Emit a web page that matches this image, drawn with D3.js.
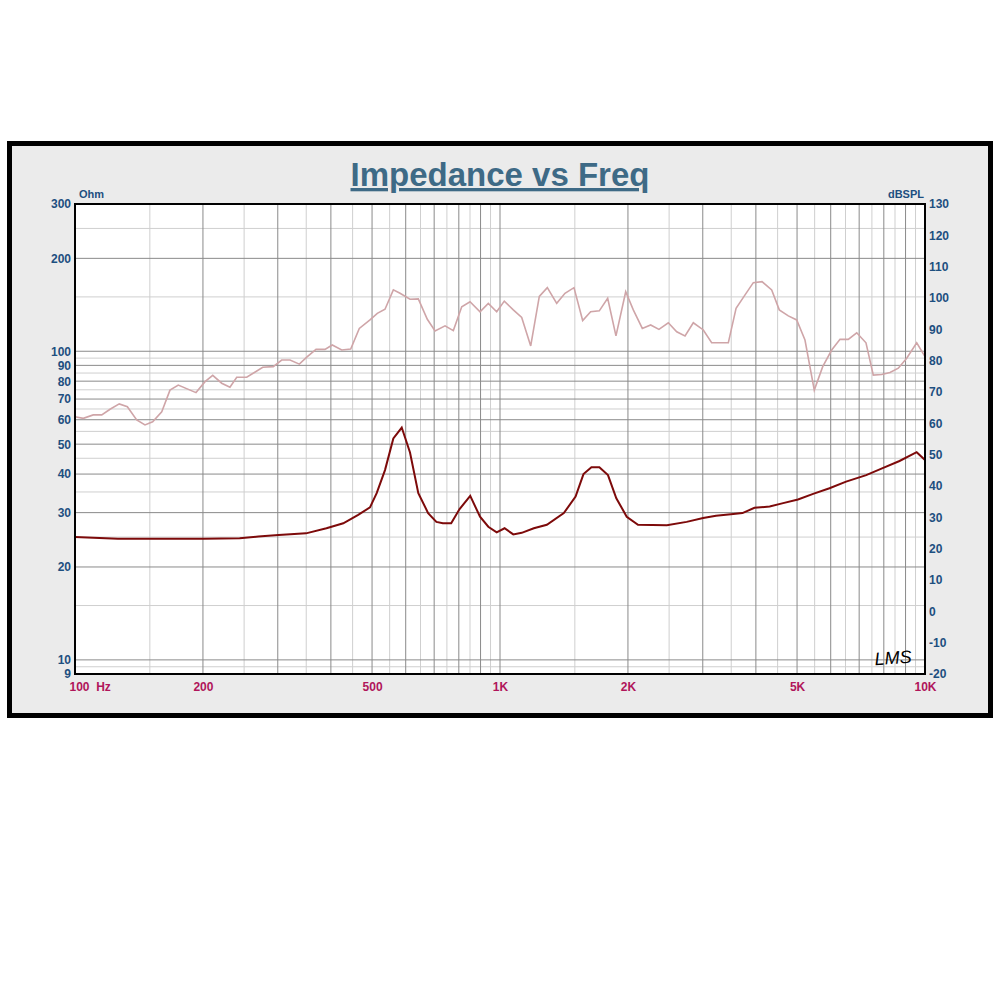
<!DOCTYPE html>
<html><head><meta charset="utf-8">
<script src="https://cdn.jsdelivr.net/npm/d3@7"></script>
<style>
html,body{margin:0;padding:0;background:#fff;}
svg{display:block;}
text{font-family:"Liberation Sans",Arial,sans-serif;}
</style></head>
<body>
<script>
// ---- data ----
const splFreq = [100,104.6,110.4,115.6,120.9,127.1,132.8,139.7,146.1,152.3,160,167.3,175,192.6,202.3,210.9,221.4,231.5,240.2,253.5,276.5,292.8,306.4,320.6,337.2,351,369.1,387.4,403,424.2,445.4,466.6,494.4,514.4,536.3,561.1,581.8,614.1,642.4,674.5,703.4,742.5,776.6,812.8,850.1,897.4,938.6,982.2,1023.5,1074.7,1124.8,1181,1237.4,1292.2,1359.6,1421.9,1493,1565,1634.2,1712.5,1792.1,1874.4,1976,2059,2162,2262,2366,2489,2605,2725,2850,3009,3148,3445,3593,3772,3945,4136,4358,4541,4769,4990,5219,5489,5745,6032,6310,6598,6908,7263,7557,7910,8272,8654,9055,9561,10000];
const splDb = [62.1,61.6,62.7,62.7,64.5,66.2,65.3,61.1,59.5,60.5,63.7,70.6,72.2,69.8,73.3,75.3,72.8,71.5,74.7,74.7,77.9,78.1,80.2,80.2,78.9,81.1,83.6,83.6,85,83.4,83.7,90.3,93,95.1,96.4,102.6,101.5,99.6,99.7,93.2,89.5,91.1,89.6,97.2,98.8,95.6,98.3,95.6,99,96.2,93.8,84.7,100.5,103.3,98.3,101.5,103.3,92.8,95.6,95.9,99.9,87.9,102,96.2,90.3,91.4,90,92.1,89.2,87.9,92.1,89.8,85.7,85.7,96.7,101,104.9,105.2,102.6,96.2,94.3,93,86.6,70.6,78.1,83.4,86.8,86.8,88.9,85.7,75.4,75.6,76.2,77.6,80.8,85.7,81.3];
const zFreq = [100,126.2,200.6,244,270,301.2,349.6,390.5,427.8,463.8,494.4,512.7,536.3,561.1,587.2,614.1,642.4,677.5,708.5,733.8,767.6,803.3,851,897.4,938.6,982.2,1025,1074.7,1124.8,1201,1289,1413,1506,1572,1641,1713,1795,1878,1987,2112,2469,2749,3006,3223,3539,3719,3970,4310,4637,5025,5455,5960,6521,7272,7949,8710,9558,10000];
const zOhm = [25.0,24.7,24.7,24.8,25.1,25.4,25.7,26.7,27.7,29.5,31.2,34.7,41.2,52.2,56.6,47.0,34.7,29.9,28.0,27.7,27.7,30.8,34.0,29.1,27.0,25.9,26.7,25.5,25.8,26.7,27.4,29.9,33.8,40.0,42.1,42.1,39.7,33.4,29.1,27.4,27.3,28.0,28.8,29.3,29.7,29.9,31.1,31.4,32.2,33.1,34.5,36.0,37.8,39.7,41.8,44.1,47.1,44.4];
const leftTicks = [300,200,100,90,80,70,60,50,40,30,20,10,9];
const rightTicks = [130,120,110,100,90,80,70,60,50,40,30,20,10,0,-10,-20];
const xTicks = [100,200,500,1000,2000,5000,10000];
const xTickLabels = ["100  Hz","200","500","1K","2K","5K","10K"];

// ---- layout ----
const W=1000,H=1000;
const L=75,R=925,T=204,B=674;
const svg=d3.select("body").append("svg").attr("width",W).attr("height",H);

// frame
svg.append("rect").attr("x",9.5).attr("y",143.5).attr("width",981).attr("height",572)
  .attr("fill","#ebebeb").attr("stroke","#000").attr("stroke-width",5);

const x=d3.scaleLog().domain([100,10000]).range([L,R]);
const yL=d3.scaleLog().domain([9,300]).range([B,T]);
const yR=d3.scaleLinear().domain([-20,130]).range([B,T]);

svg.append("rect").attr("x",L).attr("y",T).attr("width",R-L).attr("height",B-T).attr("fill","#fff");

// grid
const vDark=[],vLight=[];
for(let d=100;d<10000;d*=10){
  for(let k=1;k<=9;k++){ if(k>1||d>100) vDark.push(k*d); vLight.push((k+0.5)*d); }
}
const hDark=[10,20,30,40,50,60,70,80,90,100,200];
const hLight=[9.5,15,25,35,45,55,65,75,85,95,150,250];
const g=svg.append("g");
g.selectAll(".vl").data(vLight).join("line").attr("x1",d=>x(d)).attr("x2",d=>x(d)).attr("y1",T).attr("y2",B).attr("stroke","#cfcfcf").attr("stroke-width",1);
g.selectAll(".hl").data(hLight).join("line").attr("y1",d=>yL(d)).attr("y2",d=>yL(d)).attr("x1",L).attr("x2",R).attr("stroke","#cfcfcf").attr("stroke-width",1);
g.selectAll(".vd").data(vDark).join("line").attr("x1",d=>x(d)).attr("x2",d=>x(d)).attr("y1",T).attr("y2",B).attr("stroke","#8a8a8a").attr("stroke-width",1);
g.selectAll(".hd").data(hDark).join("line").attr("y1",d=>yL(d)).attr("y2",d=>yL(d)).attr("x1",L).attr("x2",R).attr("stroke","#8a8a8a").attr("stroke-width",1);

// curves
const splPts=splFreq.map((f,i)=>[f,splDb[i]]);
const zPts=zFreq.map((f,i)=>[f,zOhm[i]]);
svg.append("path").datum(splPts).attr("fill","none").attr("stroke","#cfa5a8").attr("stroke-width",1.6)
  .attr("d",d3.line().x(d=>x(d[0])).y(d=>yR(d[1])));
svg.append("path").datum(zPts).attr("fill","none").attr("stroke","#7d0a0a").attr("stroke-width",2)
  .attr("d",d3.line().x(d=>x(d[0])).y(d=>yL(d[1])));

// plot border
svg.append("rect").attr("x",L).attr("y",T).attr("width",R-L).attr("height",B-T).attr("fill","none").attr("stroke","#000").attr("stroke-width",2);

// axes
const blue="#1d4f80";
const axL=svg.append("g").attr("transform",`translate(${L},0)`)
  .call(d3.axisLeft(yL).tickValues(leftTicks).tickFormat(d=>String(d)).tickSize(0).tickPadding(4));
axL.select(".domain").remove();
axL.selectAll("text").attr("fill",blue).attr("font-size",12).attr("font-weight","bold").attr("font-family","Liberation Sans, Arial, sans-serif");
const axR=svg.append("g").attr("transform",`translate(${R},0)`)
  .call(d3.axisRight(yR).tickValues(rightTicks).tickFormat(d=>String(d)).tickSize(0).tickPadding(4));
axR.select(".domain").remove();
axR.selectAll("text").attr("fill",blue).attr("font-size",12).attr("font-weight","bold").attr("font-family","Liberation Sans, Arial, sans-serif");
const axB=svg.append("g").attr("transform",`translate(0,${B})`)
  .call(d3.axisBottom(x).tickValues(xTicks).tickFormat((d,i)=>xTickLabels[i]).tickSize(0).tickPadding(8));
axB.select(".domain").remove();
axB.selectAll("text").attr("fill","#b0155a").attr("font-size",12).attr("font-weight","bold").attr("font-family","Liberation Sans, Arial, sans-serif")
  .attr("text-anchor",(d,i)=>i===0?"start":"middle").attr("dx",(d,i)=>i===0?-6:0).style("white-space","pre").attr("xml:space","preserve");

svg.append("text").attr("x",79).attr("y",198).text("Ohm").attr("fill",blue).attr("font-size",11).attr("font-weight","bold");
svg.append("text").attr("x",924).attr("y",198).attr("text-anchor","end").text("dBSPL").attr("fill",blue).attr("font-size",11).attr("font-weight","bold");

// title
svg.append("text").attr("x",500).attr("y",186).attr("text-anchor","middle").text("Impedance vs Freq")
  .attr("fill","#3e6a86").attr("font-size",33).attr("font-weight","bold").attr("text-decoration","underline");

// logo
svg.append("text").attr("x",893).attr("y",664).attr("text-anchor","middle").text("LMS")
  .attr("fill","#000").attr("font-size",18).attr("font-style","italic").attr("font-family","DejaVu Serif, serif").attr("transform","rotate(-4,893,658)");
</script>
</body></html>
